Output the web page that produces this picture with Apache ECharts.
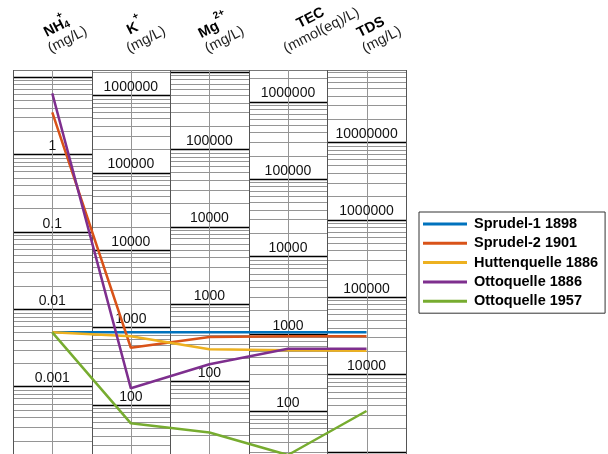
<!DOCTYPE html>
<html><head><meta charset="utf-8">
<script src="https://cdn.jsdelivr.net/npm/echarts@6/dist/echarts.min.js"></script>
<style>html,body{margin:0;padding:0;background:#fff;overflow:hidden}#chart{width:608px;height:480px}</style>
</head><body><div id="chart"></div>
<script>
// ---- data ----
const parameters = ['NH4+', 'K+', 'Mg2+', 'TEC', 'TDS'];
const units = ['(mg/L)', '(mg/L)', '(mg/L)', '(mmol(eq)/L)', '(mg/L)'];
const seriesNames = ['Sprudel-1 1898', 'Sprudel-2 1901', 'Huttenquelle 1886', 'Ottoquelle 1886', 'Ottoquelle 1957'];
const sprudel1_1898     = [0.005, 863, 430, 1043, 34900];
const sprudel2_1901     = [3.48, 545, 374, 927, 31000];
const huttenquelle_1886 = [0.005, 766, 259, 611, 20200];
const ottoquelle_1886   = [6.13, 163, 166, 641, 21400];
const ottoquelle_1957   = [0.005, 57.5, 21.8, 27.1, 3360];
const tickLabels = [
  ['0.001', '0.01', '0.1', '1'],
  ['100', '1000', '10000', '100000', '1000000'],
  ['100', '1000', '10000', '100000'],
  ['100', '1000', '10000', '100000', '1000000'],
  ['10000', '100000', '1000000', '10000000']
];
// per-column logarithmic axes: log10 of the value at the top edge, decades shown
const axisTopLog = [1.0886, 6.3248, 6.022, 6.4075, 7.932];
const axisSpan = 5.1;

// ---- layout / style ----
const colors = ['#0072BD', '#D95319', '#EDB120', '#7E2F8E', '#77AC30'];
const gridLeft = 13, gridTop = 70, colW = 78.56, decadePx = 77.4;
const FONT = '"Liberation Sans", Arial, Helvetica, sans-serif';

const toY = (c, v) => Math.log10(v) - axisTopLog[c];

const hLines = [];
for (let c = 0; c < parameters.length; c++) {
  hLines.push([c, 0, 2]);
  for (let d = Math.floor(axisTopLog[c] - axisSpan); d <= Math.ceil(axisTopLog[c]); d++) {
    for (let m = 1; m <= 9; m++) {
      const y = d + Math.log10(m) - axisTopLog[c];
      if (y < 0 && y >= -axisSpan) hLines.push([c, y, m === 1 ? 1 : 0]);
    }
  }
}
const vLines = [];
for (let i = 0; i <= parameters.length * 2; i++) vLines.push([i / 2, i % 2 === 0 ? 1 : 0]);

const labelData = [], labelText = [];
tickLabels.forEach((arr, c) => arr.forEach(t => {
  labelData.push([c + 0.5, toY(c, parseFloat(t))]);
  labelText.push(t);
}));

const seriesValues = [sprudel1_1898, sprudel2_1901, huttenquelle_1886, ottoquelle_1886, ottoquelle_1957];

function textWidth(str, font) {
  const ctx = document.createElement('canvas').getContext('2d');
  ctx.font = font; return ctx.measureText(str).width;
}

const titleRich = ['{b|NH}{z|+}{s|4}', '{b|K}{p|+}', '{b|Mg}{p|2+}', '{b|TEC}', '{b|TDS}'];
const rich = {
  b: { fontFamily: FONT, fontWeight: 'bold', fontSize: 14.5, fill: '#000', color: '#000', lineHeight: 22, verticalAlign: 'bottom' },
  p: { fontFamily: FONT, fontWeight: 'bold', fontSize: 10, fill: '#000', color: '#000', lineHeight: 22, verticalAlign: 'top' },
  z: { fontFamily: FONT, fontWeight: 'bold', fontSize: 10, fill: '#000', color: '#000', lineHeight: 22, verticalAlign: 'top', width: 0.1 },
  s: { fontFamily: FONT, fontWeight: 'bold', fontSize: 10, fill: '#000', color: '#000', lineHeight: 18, verticalAlign: 'bottom' }
};
const ROT = 27 * Math.PI / 180;
const unitFont = '14.5px ' + FONT;
const headers = parameters.map((p, c) => {
  const cx = gridLeft + (c + 0.5) * colW;
  const uw = textWidth(units[c], unitFont);
  return {
    type: 'group', x: cx, y: 56, rotation: ROT,
    children: [
      { type: 'text', x: 0, y: 0, style: { text: units[c], font: unitFont, fill: '#222', align: 'left', textAlign: 'left', verticalAlign: 'bottom', textVerticalAlign: 'bottom' } },
      { type: 'text', x: uw / 2 - 4, y: -16, style: { text: titleRich[c], rich: rich, font: 'bold 14.5px ' + FONT, fill: '#000', align: 'center', textAlign: 'center', verticalAlign: 'bottom', textVerticalAlign: 'bottom' } }
    ]
  };
});

const chart = echarts.init(document.getElementById('chart'), null, { renderer: 'canvas' });
chart.setOption({
  animation: false,
  grid: { left: gridLeft, top: gridTop, width: colW * parameters.length, height: axisSpan * decadePx },
  xAxis: { type: 'value', min: 0, max: parameters.length, show: false },
  yAxis: { type: 'value', min: -axisSpan, max: 0, show: false },
  legend: {
    orient: 'vertical', left: 419, top: 212,
    icon: 'rect', itemWidth: 44, itemHeight: 3, itemGap: 3.3,
    padding: [4, 7, 4, 4],
    borderColor: '#333', borderWidth: 1, borderRadius: 0,
    textStyle: { fontFamily: FONT, fontWeight: 'bold', fontSize: 14.5, color: '#000', lineHeight: 16, padding: [0, 0, 0, 2] },
    data: seriesNames
  },
  graphic: headers,
  series: [
    {
      type: 'custom', z: 1, silent: true, data: hLines,
      renderItem: (params, api) => {
        const c = api.value(0), y = api.value(1), k = api.value(2);
        const p0 = api.coord([c, y]), p1 = api.coord([c + 1, y]);
        const py = Math.round(p0[1]) + 0.5;
        return { type: 'line', shape: { x1: Math.round(p0[0]), y1: py, x2: Math.round(p1[0]), y2: py },
          style: { stroke: k === 1 ? '#000' : (k === 2 ? '#777' : '#959595'), lineWidth: k === 1 ? 1.3 : 1 } };
      }
    },
    {
      type: 'custom', z: 1, silent: true, data: vLines,
      renderItem: (params, api) => {
        const x = api.value(0), k = api.value(1);
        const p0 = api.coord([x, 0]), p1 = api.coord([x, -axisSpan]);
        const px = Math.round(p0[0]) + 0.5;
        return { type: 'line', shape: { x1: px, y1: p0[1], x2: px, y2: p1[1] },
          style: { stroke: k === 1 ? '#555' : '#959595', lineWidth: 1 } };
      }
    },
    {
      type: 'custom', z: 2, silent: true, data: labelData,
      renderItem: (params, api) => {
        const p = api.coord([api.value(0), api.value(1)]);
        return { type: 'text', x: p[0], y: p[1] - 1,
          style: { text: labelText[params.dataIndex], font: '14px ' + FONT, fill: '#111',
            align: 'center', textAlign: 'center', verticalAlign: 'bottom', textVerticalAlign: 'bottom' } };
      }
    },
    ...seriesValues.map((vals, i) => ({
      type: 'line', name: seriesNames[i], z: 5,
      symbol: 'none', showSymbol: false,
      color: colors[i],
      itemStyle: { color: colors[i] },
      lineStyle: { color: colors[i], width: 2.5 },
      data: vals.map((v, c) => [c + 0.5, toY(c, v)])
    }))
  ]
});
</script>
</body></html>
